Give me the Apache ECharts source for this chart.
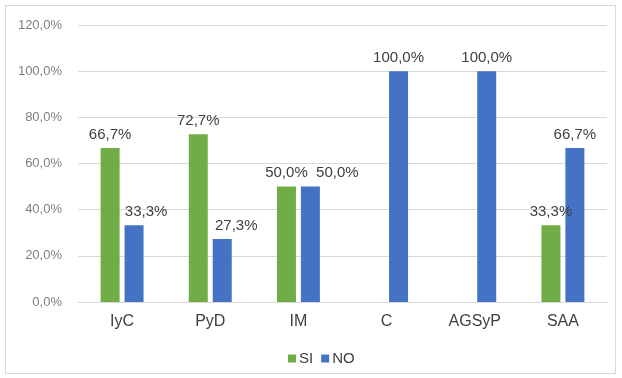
<!DOCTYPE html>
<html>
<head>
<meta charset="utf-8">
<script src="https://cdn.jsdelivr.net/npm/echarts@6/dist/echarts.min.js"></script>
<style>
  html, body { margin: 0; padding: 0; background: #fff; }
  #frame { position: absolute; left: 5px; top: 5px; width: 611px; height: 369px; border: 1px solid #d9d9d9; box-sizing: border-box; }
  #chart { position: absolute; left: 0; top: 0; width: 622px; height: 378px; }
</style>
</head>
<body>
<div id="frame"></div>
<div id="chart"></div>
<script>
const categories = ['IyC', 'PyD', 'IM', 'C', 'AGSyP', 'SAA'];
const siValues = [66.7, 72.7, 50.0, null, null, 33.3];
const noValues = [33.3, 27.3, 50.0, 100.0, 100.0, 66.7];

// label nudges (px) so the NO labels don't collide with the SI ones
const noLabelShift = [12, 14, 27, 0, 0, 0];

function pct(v) {
    return v.toFixed(1).replace('.', ',') + '%';
}

let chart = echarts.init(document.getElementById('chart'));

let labelStyle = {
    show: true,
    position: 'top',
    distance: 6,
    color: '#404040',
    fontSize: 15,
    fontFamily: 'Liberation Sans, Arial, sans-serif',
    formatter: function (p) { return pct(p.value); }
};

let noData = noValues.map(function (v, i) {
    return { value: v, label: { offset: [noLabelShift[i], 0] } };
});

let option = {
    animation: false,
    textStyle: { fontFamily: 'Liberation Sans, Arial, sans-serif' },
    grid: { left: 78, right: 15, top: 25, bottom: 76 },
    legend: {
        top: 346,
        left: 283,
        itemWidth: 8,
        itemHeight: 8,
        itemGap: 8,
        icon: 'rect',
        textStyle: { color: '#404040', fontSize: 15, padding: [0, 0, 0, -2] },
        data: ['SI', 'NO']
    },
    xAxis: {
        type: 'category',
        data: categories,
        axisLine: { lineStyle: { color: '#d9d9d9' } },
        axisTick: { show: false },
        axisLabel: { color: '#404040', fontSize: 16, margin: 12 }
    },
    yAxis: {
        type: 'value',
        min: 0,
        max: 120,
        interval: 20,
        axisLine: { show: false },
        axisTick: { show: false },
        splitLine: { lineStyle: { color: '#d9d9d9' } },
        axisLabel: {
            color: '#7f7f7f',
            fontSize: 13,
            margin: 16,
            formatter: function (v) { return pct(v); }
        }
    },
    series: [
        {
            name: 'SI',
            type: 'bar',
            data: siValues,
            barWidth: 19,
            barGap: '26%',
            itemStyle: { color: '#70ad47' },
            label: labelStyle
        },
        {
            name: 'NO',
            type: 'bar',
            data: noData,
            barWidth: 19,
            itemStyle: { color: '#4472c4' },
            label: labelStyle
        }
    ]
};

option && chart.setOption(option);
</script>
</body>
</html>
